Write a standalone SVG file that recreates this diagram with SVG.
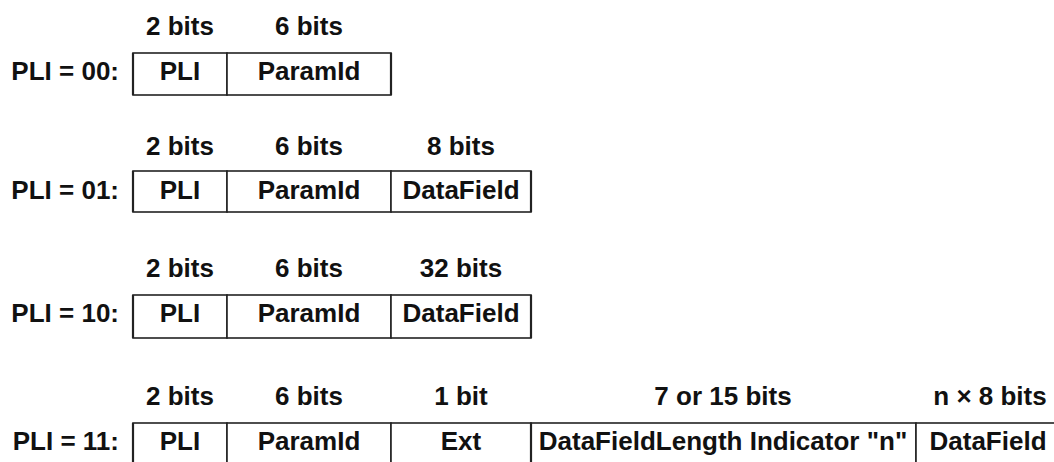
<svg xmlns="http://www.w3.org/2000/svg" width="1054" height="462" viewBox="0 0 1054 462">
<style>
text{font-family:"Liberation Sans",Arial,sans-serif;font-weight:bold;font-size:26px;fill:#111;text-anchor:middle}
.lbl{text-anchor:end}
.cell{fill:#fff;stroke:#222;stroke-width:1.6}
.edge{stroke:#222;stroke-width:2.2}
</style>
<rect width="1054" height="462" fill="#fff"/>
<g id="row-00">
<text class="lbl" x="119" y="80">PLI = 00:</text>
<g id="r00-pli"><rect class="cell" x="133" y="53" width="94" height="42"/><text x="180" y="35">2 bits</text><text x="180" y="80">PLI</text></g>
<g id="r00-paramid"><rect class="cell" x="227" y="53" width="164" height="42"/><text x="309" y="35">6 bits</text><text x="309" y="80">ParamId</text></g>
<line class="edge" x1="133" y1="53" x2="133" y2="95"/><line class="edge" x1="391" y1="53" x2="391" y2="95"/>
</g>
<g id="row-01">
<text class="lbl" x="119" y="199">PLI = 01:</text>
<g id="r01-pli"><rect class="cell" x="133" y="171" width="94" height="41"/><text x="180" y="155">2 bits</text><text x="180" y="199">PLI</text></g>
<g id="r01-paramid"><rect class="cell" x="227" y="171" width="164" height="41"/><text x="309" y="155">6 bits</text><text x="309" y="199">ParamId</text></g>
<g id="r01-datafield"><rect class="cell" x="391" y="171" width="140" height="41"/><text x="461" y="155">8 bits</text><text x="461" y="199">DataField</text></g>
<line class="edge" x1="133" y1="171" x2="133" y2="212"/><line class="edge" x1="531" y1="171" x2="531" y2="212"/>
</g>
<g id="row-10">
<text class="lbl" x="119" y="322">PLI = 10:</text>
<g id="r10-pli"><rect class="cell" x="133" y="295" width="94" height="43"/><text x="180" y="277">2 bits</text><text x="180" y="322">PLI</text></g>
<g id="r10-paramid"><rect class="cell" x="227" y="295" width="164" height="43"/><text x="309" y="277">6 bits</text><text x="309" y="322">ParamId</text></g>
<g id="r10-datafield"><rect class="cell" x="391" y="295" width="140" height="43"/><text x="461" y="277">32 bits</text><text x="461" y="322">DataField</text></g>
<line class="edge" x1="133" y1="295" x2="133" y2="338"/><line class="edge" x1="531" y1="295" x2="531" y2="338"/>
</g>
<g id="row-11">
<text class="lbl" x="119" y="450">PLI = 11:</text>
<g id="r11-pli"><rect class="cell" x="133" y="423" width="94" height="44"/><text x="180" y="405">2 bits</text><text x="180" y="450">PLI</text></g>
<g id="r11-paramid"><rect class="cell" x="227" y="423" width="164" height="44"/><text x="309" y="405">6 bits</text><text x="309" y="450">ParamId</text></g>
<g id="r11-ext"><rect class="cell" x="391" y="423" width="140" height="44"/><text x="461" y="405">1 bit</text><text x="461" y="450">Ext</text></g>
<g id="r11-length"><rect class="cell" x="531" y="423" width="385" height="44"/><text x="723" y="405">7 or 15 bits</text><text x="723" y="450">DataFieldLength Indicator "n"</text></g>
<g id="r11-datafield"><rect class="cell" x="916" y="423" width="148" height="44"/><text x="990" y="405">n × 8 bits</text><text x="988" y="450">DataField</text></g>
<line class="edge" x1="133" y1="423" x2="133" y2="462"/><line class="edge" x1="531" y1="423" x2="531" y2="462"/>
</g>
</svg>
